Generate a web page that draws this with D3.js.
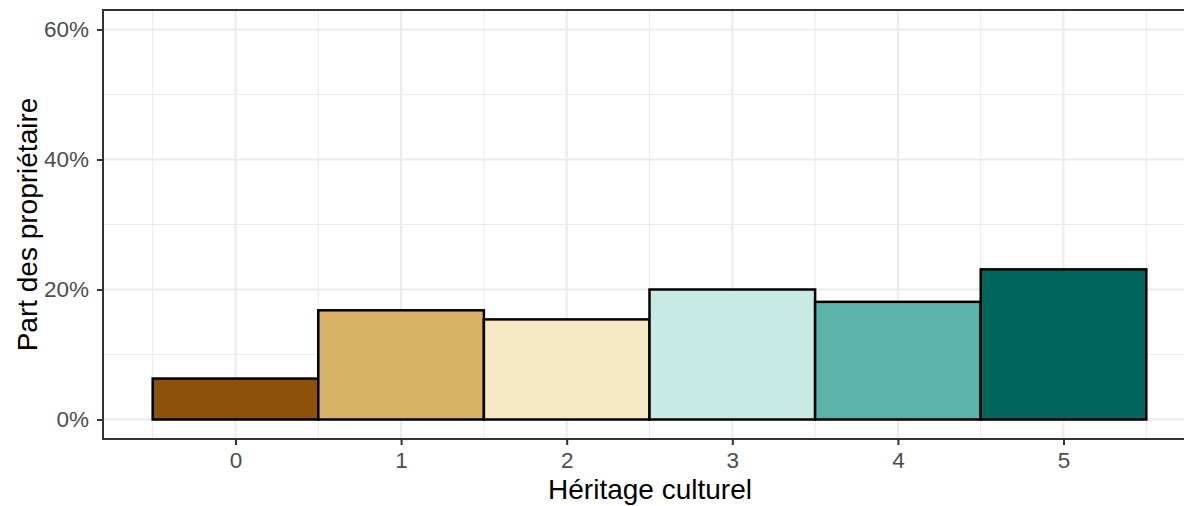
<!DOCTYPE html>
<html lang="fr">
<head>
<meta charset="utf-8">
<title>Part des propriétaires par héritage culturel</title>
<script src="https://d3js.org/d3.v7.min.js"></script>
<style>
  body { margin: 0; background: #fff; }
  text { font-family: "Liberation Sans", Arial, sans-serif; }
</style>
</head>
<body>
<script>
// data
var categories = [0, 1, 2, 3, 4, 5]
var shares = [0.063, 0.168, 0.154, 0.200, 0.181, 0.231]
var colors = ["#8c510a", "#d8b365", "#f6e8c3", "#c7eae5", "#5ab4ac", "#01665e"]
var yTicks = [0, 0.2, 0.4, 0.6]
var yMinor = [0.1, 0.3, 0.5]

var w = 1184, h = 506
var padL = 103, padT = 10, padB = 439
var padR = 1196   // panel continues past the picture edge

var x = d3.scaleLinear().domain([-0.8, 5.8]).range([padL, padR])
var y = d3.scaleLinear().domain([-0.03, 0.63]).range([padB, padT])

var svg = d3.select("body").append("svg")
  .attr("width", w).attr("height", h)

var grid = svg.append("g")
// minor grid
grid.selectAll(".ymin").data(yMinor).enter().append("line")
  .attr("x1", padL).attr("x2", padR)
  .attr("y1", d => y(d)).attr("y2", d => y(d))
  .attr("stroke", "#ebebeb").attr("stroke-width", 1)
grid.selectAll(".xmin").data(categories.map(d => d - 0.5).concat([5.5])).enter().append("line")
  .attr("y1", padT).attr("y2", padB)
  .attr("x1", d => x(d)).attr("x2", d => x(d))
  .attr("stroke", "#ebebeb").attr("stroke-width", 1)
// major grid
grid.selectAll(".ymaj").data(yTicks).enter().append("line")
  .attr("x1", padL).attr("x2", padR)
  .attr("y1", d => y(d)).attr("y2", d => y(d))
  .attr("stroke", "#ebebeb").attr("stroke-width", 2)
grid.selectAll(".xmaj").data(categories).enter().append("line")
  .attr("y1", padT).attr("y2", padB)
  .attr("x1", d => x(d)).attr("x2", d => x(d))
  .attr("stroke", "#ebebeb").attr("stroke-width", 2)

// bars
svg.selectAll("rect.bar").data(shares).enter().append("rect")
  .attr("class", "bar")
  .attr("x", (d, i) => x(categories[i] - 0.5))
  .attr("width", (d, i) => x(categories[i] + 0.5) - x(categories[i] - 0.5))
  .attr("y", d => y(d))
  .attr("height", d => y(0) - y(d))
  .attr("fill", (d, i) => colors[i])
  .attr("stroke", "#000")
  .attr("stroke-width", 2.5)

// panel border
svg.append("rect")
  .attr("x", padL).attr("y", padT)
  .attr("width", padR - padL).attr("height", padB - padT)
  .attr("fill", "none").attr("stroke", "#333333").attr("stroke-width", 2)

// axes
var yAxis = d3.axisLeft(y).tickValues(yTicks)
  .tickFormat(d3.format(".0%")).tickSize(6).tickPadding(8)
var xAxis = d3.axisBottom(x).tickValues(categories)
  .tickFormat(d3.format("d")).tickSize(6).tickPadding(7)

var gy = svg.append("g").attr("transform", "translate(" + padL + ",0)").call(yAxis)
var gx = svg.append("g").attr("transform", "translate(0," + padB + ")").call(xAxis)
;[gx, gy].forEach(function(g) {
  g.select(".domain").remove()
  g.selectAll(".tick line").attr("stroke", "#333333").attr("stroke-width", 2)
  g.selectAll(".tick text").attr("fill", "#4d4d4d").attr("font-size", "22.5px")
    .attr("font-family", "Liberation Sans, Arial, sans-serif")
})

// titles
svg.append("text")
  .attr("x", 650).attr("y", 499)
  .attr("text-anchor", "middle").attr("font-size", "28px").attr("fill", "#000")
  .text("Héritage culturel")
svg.append("text")
  .attr("transform", "translate(37," + ((padT + padB) / 2) + ") rotate(-90)")
  .attr("text-anchor", "middle").attr("font-size", "28px").attr("fill", "#000")
  .text("Part des propriétaire")
</script>
</body>
</html>
